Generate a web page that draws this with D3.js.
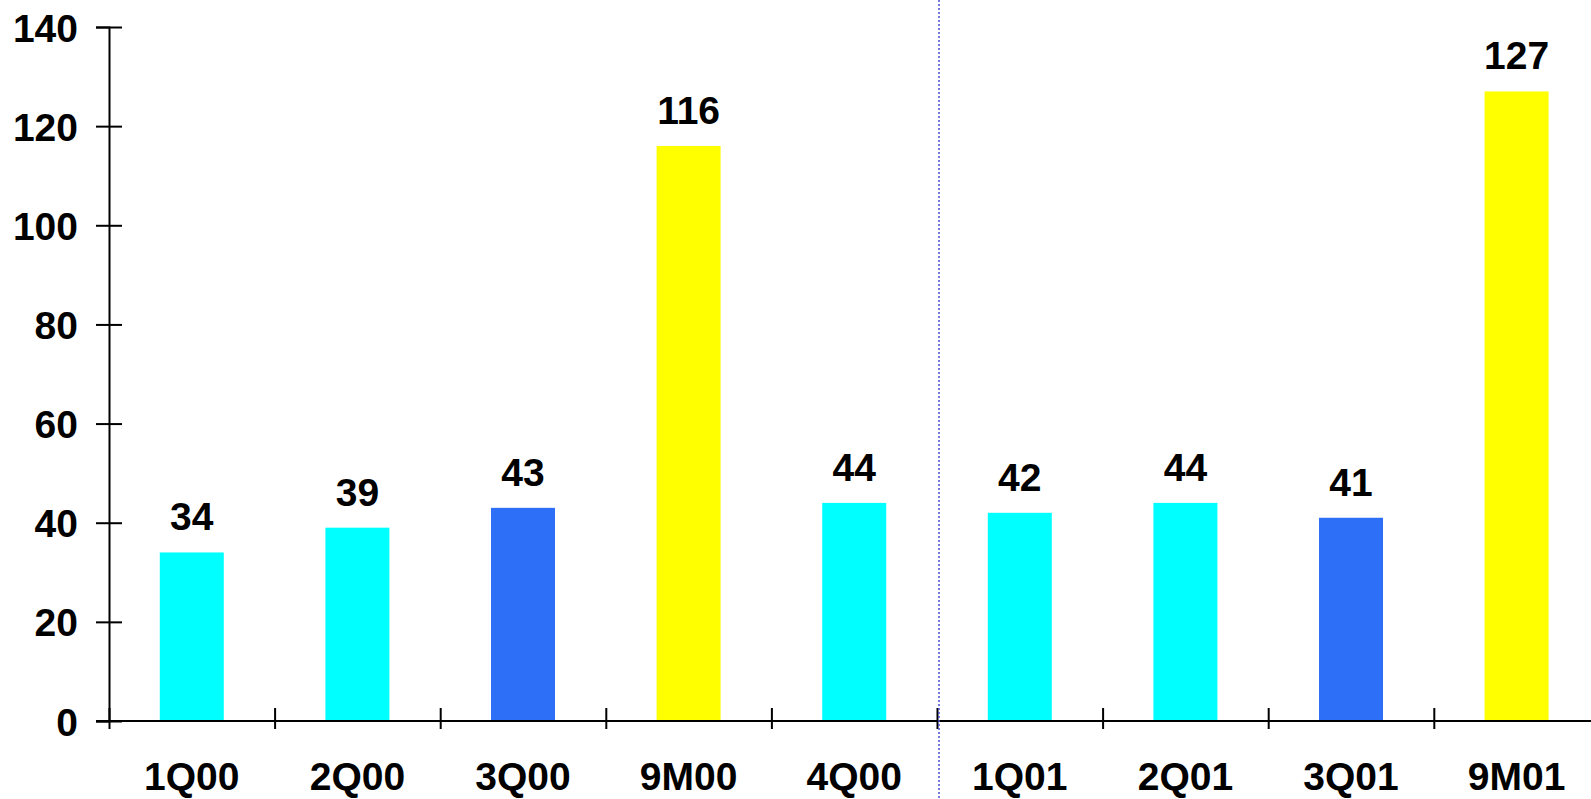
<!DOCTYPE html>
<html>
<head>
<meta charset="utf-8">
<script src="https://cdn.jsdelivr.net/npm/d3@7"></script>
<style>
	body { margin: 0; background: #fff; }
	svg { display: block; font-family: "Liberation Sans", Arial, sans-serif; font-weight: bold; }
</style>
</head>
<body>
<svg width="1591" height="799"></svg>
<script>

// chart data
var categories = ['1Q00', '2Q00', '3Q00', '9M00', '4Q00', '1Q01', '2Q01', '3Q01', '9M01'];
var values = [34, 39, 43, 116, 44, 42, 44, 41, 127];
var barColors = ['#00ffff', '#00ffff', '#2d6ff6', '#ffff00', '#00ffff', '#00ffff', '#00ffff', '#2d6ff6', '#ffff00'];
var yTicks = [0, 20, 40, 60, 80, 100, 120, 140];

var svg = d3.select('svg');

var x0 = 109, step = 165.6, yTop = 27, yBottom = 721;

// band scale for bar positions
var x = d3.scaleBand()
	.domain(categories)
	.range([x0, x0 + step * categories.length])
	.padding(0);

// index scale for the tick marks between categories
var xi = d3.scaleLinear()
	.domain([0, categories.length])
	.range([x0, x0 + step * categories.length]);

var y = d3.scaleLinear()
	.domain([0, 140])
	.range([yBottom, yTop]);

var barW = 64;

// bars
svg.selectAll('rect.bar')
	.data(values)
	.enter()
	.append('rect')
		.attr('class', 'bar')
		.attr('x', function(d, i){ return x(categories[i]) + x.bandwidth() / 2 - barW / 2 })
		.attr('y', function(d){ return y(d) })
		.attr('width', barW)
		.attr('height', function(d){ return y(0) - y(d) })
		.style('fill', function(d, i){ return barColors[i] });

// value labels
svg.selectAll('text.val')
	.data(values)
	.enter()
	.append('text')
		.attr('class', 'val')
		.attr('x', function(d, i){ return x(categories[i]) + x.bandwidth() / 2 })
		.attr('y', function(d){ return y(d) - 22 })
		.attr('text-anchor', 'middle')
		.style('font-size', '39px')
		.text(function(d){ return d });

// y axis
var yAxis = svg.append('g')
	.attr('transform', 'translate(' + x0 + ',0)')
	.call(d3.axisLeft(y).tickValues(yTicks).tickSizeOuter(0).tickSize(13));

yAxis.select('.domain').attr('stroke-width', 2);
yAxis.selectAll('.tick line')
	.attr('x1', -13)
	.attr('x2', 13)
	.attr('stroke-width', 2);
yAxis.selectAll('.tick text')
	.attr('x', -31)
	.attr('dy', '0.36em')
	.style('font-size', '39px')
	.style('font-family', '"Liberation Sans", Arial, sans-serif')
	.style('font-weight', 'bold')
	.attr('fill', '#000');

// x axis line
svg.append('line')
	.attr('x1', 96)
	.attr('x2', 1600)
	.attr('y1', yBottom)
	.attr('y2', yBottom)
	.attr('stroke', '#000')
	.attr('stroke-width', 2);

// x tick marks at category boundaries
var xAxis = svg.append('g')
	.attr('transform', 'translate(0,' + yBottom + ')')
	.call(d3.axisBottom(xi).tickValues(d3.range(categories.length + 1)).tickFormat('').tickSizeOuter(0));

xAxis.select('.domain').remove();
xAxis.selectAll('.tick line')
	.attr('y1', -13)
	.attr('y2', 8)
	.attr('stroke-width', 2);

// category labels
svg.selectAll('text.cat')
	.data(categories)
	.enter()
	.append('text')
		.attr('class', 'cat')
		.attr('x', function(d){ return x(d) + x.bandwidth() / 2 })
		.attr('y', 790)
		.attr('text-anchor', 'middle')
		.style('font-size', '39px')
		.text(function(d){ return d });

// dotted divider between 2000 and 2001
svg.append('line')
	.attr('x1', xi(5) + 2)
	.attr('x2', xi(5) + 2)
	.attr('y1', 0)
	.attr('y2', 799)
	.attr('stroke', '#4b4bd6')
	.attr('stroke-width', 1.5)
	.attr('stroke-dasharray', '2,2');

</script>
</body>
</html>
